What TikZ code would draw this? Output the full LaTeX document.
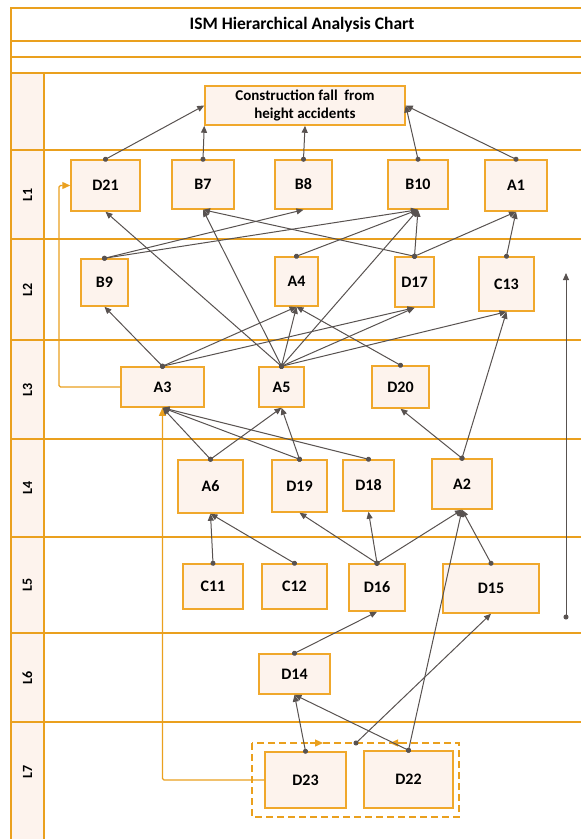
\documentclass[tikz,border=0pt]{standalone}
\usepackage{fontspec}
\setmainfont{Carlito}
\usetikzlibrary{arrows.meta}
\definecolor{frameor}{RGB}{234,160,30}
\definecolor{boxor}{RGB}{240,168,44}
\definecolor{boxfill}{RGB}{253,243,237}
\definecolor{connc}{RGB}{88,82,80}
\tikzset{
  nbox/.style={draw=boxor, line width=1.5pt, fill=boxfill, inner sep=0pt, align=center,
    font=\bfseries\fontsize{16}{18}\selectfont},
  link/.style={draw=connc, line width=1pt, {Circle[length=5pt]}-{Triangle[length=7pt,width=6pt]}, shorten <=-2.5pt},
  fbline/.style={draw=frameor, line width=1.3pt, -{Triangle[length=8pt,width=7pt]}, rounded corners=1.5pt},
  lanel/.style={font=\bfseries\fontsize{14}{16}\selectfont, rotate=90},
  gridl/.style={draw=frameor, line width=1.6pt}
}
\newcommand\ismbox[6]{\node[nbox, minimum width={(#4-#2)*1pt}, minimum height={(#5-#3)*1pt}] (#1) at ({(#2+#4)/2},{(#3+#5)/2}) {#6};}
\begin{document}
\begin{tikzpicture}[x=1pt,y=-1pt]
\useasboundingbox (0,0) rectangle (581,839);
\clip (0,0) rectangle (581,839);
% frame
\fill[boxfill] (11,73) rectangle (44,850);
\draw[gridl] (595,8) -- (11,8) -- (11,850);
\foreach \yy in {41,57,73,150,239,340,439,537,633,722}{\draw[gridl] (11,\yy) -- (595,\yy);}
\draw[gridl] (44,73) -- (44,850);
\node[font=\bfseries\fontsize{17.5}{20}\selectfont] (title) at (302,24.5) {ISM Hierarchical Analysis Chart};
% lane labels
\node[lanel] (l1) at (27.5,194.5) {L1};
\node[lanel] (l2) at (27.5,289.5) {L2};
\node[lanel] (l3) at (27.5,389.5) {L3};
\node[lanel] (l4) at (27.5,488) {L4};
\node[lanel] (l5) at (27.5,585) {L5};
\node[lanel] (l6) at (27.5,677.5) {L6};
\node[lanel] (l7) at (27.5,772) {L7};
% boxes
\node[nbox, font=\bfseries\fontsize{15}{18}\selectfont, minimum width=200pt, minimum height=39pt] (T) at (305,105.5) {Construction fall\ \ from\\height accidents};
\ismbox{D21}{71}{160}{140}{211}{D21}
\ismbox{B7}{172}{160}{234}{209}{B7}
\ismbox{B8}{275}{160}{332}{209}{B8}
\ismbox{B10}{388}{160}{448}{209}{B10}
\ismbox{A1}{485}{160}{547}{211}{A1}
\ismbox{B9}{81}{259}{128}{306}{B9}
\ismbox{A4}{275}{257}{318}{306}{A4}
\ismbox{D17}{395}{257}{434}{307}{D17}
\ismbox{C13}{479}{257}{534}{311}{C13}
\ismbox{A3}{121}{367}{204}{407}{A3}
\ismbox{A5}{259}{367}{304}{407}{A5}
\ismbox{D20}{372}{366}{429}{408}{D20}
\ismbox{A6}{178}{460}{243}{513}{A6}
\ismbox{D19}{272}{460}{327}{512}{D19}
\ismbox{D18}{343}{460}{394}{511}{D18}
\ismbox{A2}{432}{459}{492}{509}{A2}
\ismbox{C11}{183}{564}{243}{609}{C11}
\ismbox{C12}{262}{564}{327}{609}{C12}
\ismbox{D16}{349}{564}{405}{611}{D16}
\ismbox{D15}{443}{564}{539}{613}{D15}
\ismbox{D14}{259}{654}{330}{694}{D14}
\ismbox{D23}{265}{752}{346}{808}{D23}
\ismbox{D22}{364}{751}{453}{808}{D22}
% dashed group
\draw[draw=frameor, line width=1.3pt, dash pattern=on 7pt off 4pt] (252,743) rectangle (459,817);
\draw[fbline] (310,743) -- (323,743);
\draw[fbline] (403,743) -- (390,743);
% feedback lines
\coordinate (fb1) at (59,387);
\draw[fbline] (A3.west) -- (fb1) |- (D21.west);
\draw[fbline] (D23.west) -| (A3.south);
% coordinates
\coordinate (dj) at (356,743);
\coordinate (r1) at (566,617);
\coordinate (r2) at (566,273);
% links
\draw[link] (D21.north) -- (T.west);
\draw[link] (B7.north) -- (T.south west);
\draw[link] (B8.north) -- (T.south);
\draw[link] (B10.north) -- (T.east);
\draw[link] (A1.north) -- (T.east);
\draw[link] (B9.north) -- (B8.south);
\draw[link] (B9.north) -- (B10.south);
\draw[link] (A5.north) -- (D21.south);
\draw[link] (A5.north) -- (B7.south);
\draw[link] (D17.north) -- (B7.south);
\draw[link] (A4.north) -- (B10.south);
\draw[link] (D17.north) -- (B10.south);
\draw[link] (A5.north) -- (B10.south);
\draw[link] (D17.north) -- (A1.south);
\draw[link] (C13.north) -- (A1.south);
\draw[link] (A3.north) -- (B9.south);
\draw[link] (A3.north) -- (A4.south);
\draw[link] (A3.north) -- (D17.south);
\draw[link] (A5.north) -- (A4.south);
\draw[link] (A5.north) -- (D17.south);
\draw[link] (A5.north) -- (C13.south);
\draw[link] (D20.north) -- (A4.south);
\draw[link] (A2.north) -- (C13.south);
\draw[link] (A6.north) -- (A3.south);
\draw[link] (D19.north) -- (A3.south);
\draw[link] (D18.north) -- (A3.south);
\draw[link] (A6.north) -- (A5.south);
\draw[link] (D19.north) -- (A5.south);
\draw[link] (A2.north) -- (D20.south);
\draw[link] (C11.north) -- (A6.south);
\draw[link] (C12.north) -- (A6.south);
\draw[link] (D16.north) -- (D19.south);
\draw[link] (D16.north) -- (D18.south);
\draw[link] (D16.north) -- (A2.south);
\draw[link] (D15.north) -- (A2.south);
\draw[link] (D22.north) -- (A2.south);
\draw[link] (D14.north) -- (D16.south);
\draw[link] (D23.north) -- (D14.south);
\draw[link] (D22.north) -- (D14.south);
\draw[link] (dj) -- (D15.south);
\draw[link] (r1) -- (r2);
\end{tikzpicture}
\end{document}
